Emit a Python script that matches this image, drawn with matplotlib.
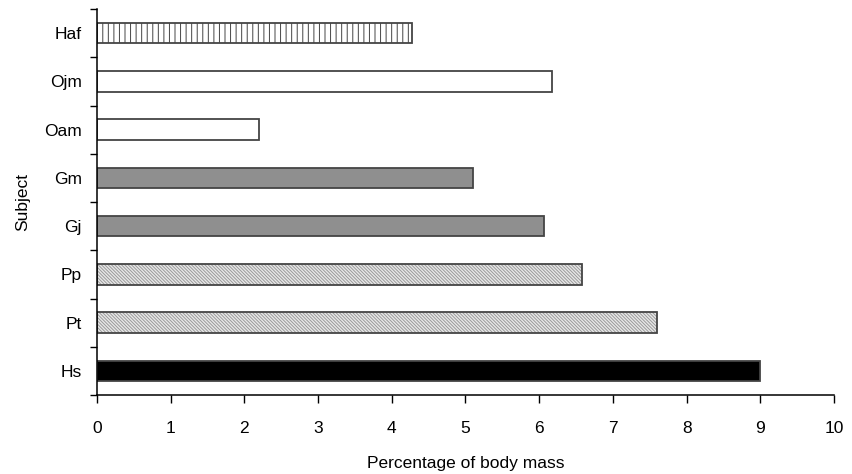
import matplotlib
matplotlib.use("Agg")
import matplotlib.pyplot as plt
import numpy as np

subjects = ["Haf", "Ojm", "Oam", "Gm", "Gj", "Pp", "Pt", "Hs"]
values = [4.27, 6.17, 2.2, 5.1, 6.07, 6.58, 7.6, 9.0]
xticks = [0, 1, 2, 3, 4, 5, 6, 7, 8, 9, 10]

plt.rcParams['font.family'] = ["Liberation Sans", 'DejaVu Sans']
plt.rcParams['hatch.linewidth'] = 0.7

styles = [
    dict(face="white", hatch="|||", hcol="#444444"),
    dict(face="white", hatch=None, hcol=None),
    dict(face="white", hatch=None, hcol=None),
    dict(face="#8f8f8f", hatch=None, hcol=None),
    dict(face="#8f8f8f", hatch=None, hcol=None),
    dict(face="#e8e8e8", hatch="\\" * 10, hcol="#9a9a9a"),
    dict(face="#e8e8e8", hatch="\\" * 10, hcol="#9a9a9a"),
    dict(face="black", hatch=None, hcol=None),
]

fig = plt.figure(figsize=(8.53, 4.74), dpi=100)
ax = fig.add_axes([97/853, 79/474, (834-97)/853, (395-9)/474])

n = len(subjects)
ypos = np.arange(n)[::-1]
h = 0.42
for y, v, st in zip(ypos, values, styles):
    if st["hatch"]:
        ax.barh(y, v, height=h, color=st["face"], edgecolor=st["hcol"],
                hatch=st["hatch"], linewidth=0)
        ax.barh(y, v, height=h, fill=False, edgecolor="#444444", linewidth=1.3)
    else:
        ax.barh(y, v, height=h, color=st["face"], edgecolor="#444444", linewidth=1.3)

fs = 12.5
ax.set_xlim(0, 10)
ax.set_ylim(-0.5, n - 0.5)
ax.set_xticks(xticks)
ax.set_xticklabels([str(t) for t in xticks], fontsize=fs)
ax.set_yticks(np.arange(n + 1) - 0.5)
ax.set_yticklabels([])
ax.set_yticks(ypos, minor=True)
ax.set_yticklabels(subjects, minor=True, fontsize=fs)
ax.tick_params(axis="y", which="minor", length=0, pad=11)
ax.tick_params(axis="y", which="major", length=5, width=1, direction="out")
ax.tick_params(axis="x", length=6, width=1, direction="out", pad=13)

for s in ["top", "right"]:
    ax.spines[s].set_visible(False)
for s in ["left", "bottom"]:
    ax.spines[s].set_linewidth(1.1)

ax.set_xlabel("Percentage of body mass", fontsize=fs, labelpad=14)
ax.set_ylabel("Subject", fontsize=fs, labelpad=10)

fig.savefig("out.png", dpi=100)
